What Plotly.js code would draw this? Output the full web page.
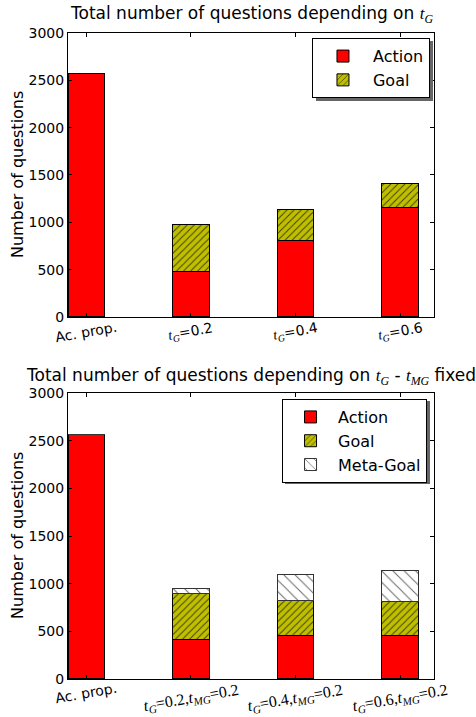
<!DOCTYPE html>
<html>
<head>
<meta charset="utf-8">
<script src="https://cdn.plot.ly/plotly-3.0.1.min.js"></script>
<style>html,body{margin:0;padding:0;background:#fff;}#chart{width:476px;height:717px;}</style>
</head>
<body>
<div id="chart"></div>
<script>
// ---- data ----
const categoriesTop = ['Ac. prop.', 'tG=0.2', 'tG=0.4', 'tG=0.6'];
const tickLabelsTop = [
  'Ac. prop.',
  '<span style="font-family:Liberation Serif"><i>t</i><sub><i>G</i></sub></span>=0.2',
  '<span style="font-family:Liberation Serif"><i>t</i><sub><i>G</i></sub></span>=0.4',
  '<span style="font-family:Liberation Serif"><i>t</i><sub><i>G</i></sub></span>=0.6'
];
const actionTop = [2575, 485, 808, 1152];
const goalTop = [0, 495, 323, 263];

const categoriesBot = ['Ac. prop.', 'tG=0.2,tMG=0.2', 'tG=0.4,tMG=0.2', 'tG=0.6,tMG=0.2'];
const tickLabelsBot = [
  'Ac. prop.',
  '<span style="font-family:Liberation Serif;font-size:16px"><i>t</i><sub><i>G</i></sub>=0.2,<i>t</i><sub><i>MG</i></sub>=0.2</span>',
  '<span style="font-family:Liberation Serif;font-size:16px"><i>t</i><sub><i>G</i></sub>=0.4,<i>t</i><sub><i>MG</i></sub>=0.2</span>',
  '<span style="font-family:Liberation Serif;font-size:16px"><i>t</i><sub><i>G</i></sub>=0.6,<i>t</i><sub><i>MG</i></sub>=0.2</span>'
];
const actionBot = [2570, 410, 460, 460];
const goalBot = [0, 490, 367, 350];
const metaBot = [0, 48, 265, 332];

const yTicks = [0, 500, 1000, 1500, 2000, 2500, 3000];

// ---- styles ----
const RED = '#ff0000';
const OLIVE = '#bfbf00';
const edge = {color: '#000', width: 1};
const BW = 0.35;

const traces = [
  {type: 'bar', name: 'Action', x: categoriesTop, y: actionTop, width: BW,
   marker: {color: RED, line: edge}, xaxis: 'x', yaxis: 'y', legend: 'legend', showlegend: true},
  {type: 'bar', name: 'Goal', x: categoriesTop, y: goalTop, width: BW,
   marker: {color: OLIVE, line: edge, pattern: {shape: '/', fgcolor: '#3a3a00', bgcolor: OLIVE, size: 5, solidity: 0.18}},
   xaxis: 'x', yaxis: 'y', legend: 'legend', showlegend: true},
  {type: 'bar', name: 'Action', x: categoriesBot, y: actionBot, width: BW,
   marker: {color: RED, line: edge}, xaxis: 'x2', yaxis: 'y2', legend: 'legend2', showlegend: true},
  {type: 'bar', name: 'Goal', x: categoriesBot, y: goalBot, width: BW,
   marker: {color: OLIVE, line: edge, pattern: {shape: '/', fgcolor: '#3a3a00', bgcolor: OLIVE, size: 5, solidity: 0.18}},
   xaxis: 'x2', yaxis: 'y2', legend: 'legend2', showlegend: true},
  {type: 'bar', name: 'Meta-Goal', x: categoriesBot, y: metaBot, width: BW,
   marker: {color: '#ffffff', line: {color: '#333', width: 1}, pattern: {shape: '\\', fgcolor: '#666', bgcolor: '#ffffff', size: 8, solidity: 0.12}},
   xaxis: 'x2', yaxis: 'y2', legend: 'legend2', showlegend: true}
];

const axisCommon = {
  showline: true, linecolor: '#000', linewidth: 1, mirror: 'ticks',
  ticks: 'inside', ticklen: 4, tickcolor: '#000', showgrid: false, zeroline: false,
  tickfont: {family: 'DejaVu Sans', size: 14, color: '#000'}
};

const font = {family: 'DejaVu Sans', color: '#000'};

// x tick labels as rotated annotations centred under each tick
const tickAnnotations = [];
categoriesTop.forEach((c, i) => tickAnnotations.push({
  xref: 'x', yref: 'y', x: c, y: 0, yshift: -15, xanchor: 'center', yanchor: 'middle',
  showarrow: false, textangle: -10, text: tickLabelsTop[i],
  font: {family: 'DejaVu Sans', size: 14, color: '#000'}
}));
categoriesBot.forEach((c, i) => tickAnnotations.push({
  xref: 'x2', yref: 'y2', x: c, y: 0, yshift: i === 0 ? -14 : -20, xanchor: 'center', yanchor: 'middle',
  showarrow: false, textangle: -10, text: tickLabelsBot[i],
  font: {family: 'DejaVu Sans', size: 14, color: '#000'}
}));

const layout = {
  width: 476, height: 717,
  margin: {l: 68, r: 42, t: 33, b: 38},
  paper_bgcolor: '#fff', plot_bgcolor: '#fff',
  font: font,
  barmode: 'stack',
  bargap: 0,
  xaxis: Object.assign({}, axisCommon, {anchor: 'y', domain: [0, 1], type: 'category',
    range: [-0.175, 3.325], showticklabels: false}),
  yaxis: Object.assign({}, axisCommon, {anchor: 'x', domain: [0.5604, 1], range: [0, 3000], tickvals: yTicks}),
  xaxis2: Object.assign({}, axisCommon, {anchor: 'y2', domain: [0, 1], type: 'category',
    range: [-0.175, 3.325], showticklabels: false}),
  yaxis2: Object.assign({}, axisCommon, {anchor: 'x2', domain: [0, 0.4427], range: [0, 3000], tickvals: yTicks}),
  legend: {x: 0.989, y: 0.992, xanchor: 'right', yanchor: 'top', bgcolor: '#fff', bordercolor: '#000', borderwidth: 1,
    font: {family: 'DejaVu Sans', size: 16, color: '#000'}, traceorder: 'normal', itemwidth: 50},
  legend2: {x: 0.981, y: 0.4334, xanchor: 'right', yanchor: 'top', bgcolor: '#fff', bordercolor: '#000', borderwidth: 1,
    font: {family: 'DejaVu Sans', size: 16, color: '#000'}, traceorder: 'normal', itemwidth: 45},
  shapes: [
    {type: 'rect', xref: 'paper', yref: 'paper', x0: 0.6776, x1: 0.9973, y0: 0.8947, y1: 0.9876,
     fillcolor: '#666', line: {width: 0}, layer: 'above'},
    {type: 'rect', xref: 'paper', yref: 'paper', x0: 0.5929, x1: 0.9891, y0: 0.3019, y1: 0.4303,
     fillcolor: '#666', line: {width: 0}, layer: 'above'}
  ],
  annotations: [
    {xref: 'paper', yref: 'paper', x: 0.5, y: 1, yshift: 5, xanchor: 'center', yanchor: 'bottom', showarrow: false,
     text: 'Total number of questions depending on <span style="font-family:Liberation Serif"><i>t</i><sub><i>G</i></sub></span>',
     font: {family: 'DejaVu Sans', size: 17, color: '#000'}},
    {xref: 'paper', yref: 'paper', x: 0.5, y: 0.4427, yshift: 3, xanchor: 'center', yanchor: 'bottom', showarrow: false,
     text: 'Total number of questions depending on <span style="font-family:Liberation Serif"><i>t</i><sub><i>G</i></sub></span> - <span style="font-family:Liberation Serif"><i>t</i><sub><i>MG</i></sub></span> fixed',
     font: {family: 'DejaVu Sans', size: 17, color: '#000'}},
    {xref: 'paper', yref: 'paper', x: 0, xshift: -50, y: 0.7802, xanchor: 'center', yanchor: 'middle', showarrow: false,
     textangle: -90, text: 'Number of questions', font: {family: 'DejaVu Sans', size: 16, color: '#000'}},
    {xref: 'paper', yref: 'paper', x: 0, xshift: -50, y: 0.2214, xanchor: 'center', yanchor: 'middle', showarrow: false,
     textangle: -90, text: 'Number of questions', font: {family: 'DejaVu Sans', size: 16, color: '#000'}}
  ].concat(tickAnnotations)
};

Plotly.newPlot('chart', traces, layout, {displayModeBar: false, staticPlot: true});
</script>
</body>
</html>
